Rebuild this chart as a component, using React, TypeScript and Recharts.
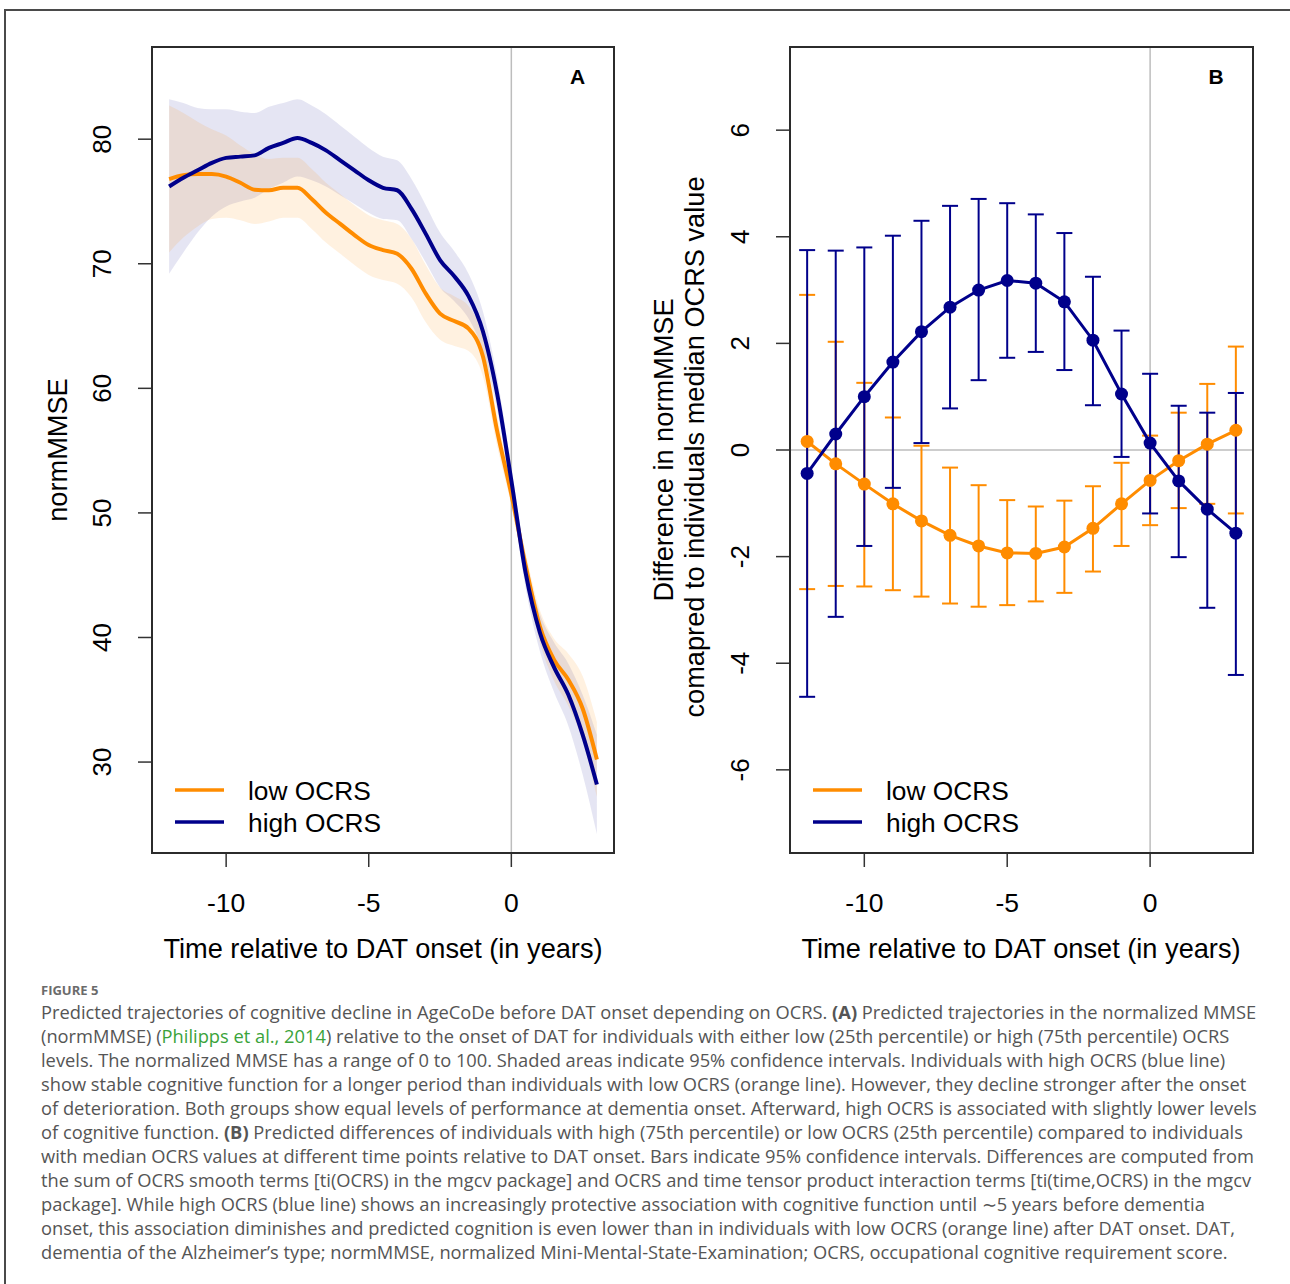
import React from 'react';
import { ComposedChart, Line, Area, XAxis, YAxis, ReferenceLine, ErrorBar } from 'recharts';

// ---------- Panel A: predicted normMMSE trajectories ----------
const TIME_A = [-12, -11.5, -11, -10.5, -10, -9.5, -9, -8.5, -8, -7.5, -7, -6.5, -6, -5.5, -5, -4.5, -4, -3.5, -3, -2.5, -2, -1.5, -1, -0.5, 0, 0.5, 1, 1.5, 2, 2.5, 3];
const HIGH_A = [76.2, 76.9, 77.5, 78.1, 78.5, 78.6, 78.7, 79.3, 79.7, 80.1, 79.7, 79.1, 78.3, 77.5, 76.7, 76.1, 75.9, 74.4, 72.4, 70.3, 69.0, 67.4, 64.6, 59.6, 52.6, 45.2, 40.4, 37.6, 35.4, 32.2, 28.2];
const HIGH_A_HI = [83.2, 82.9, 82.5, 82.4, 82.4, 82.2, 82.1, 82.6, 82.9, 83.2, 82.7, 82.0, 81.1, 80.2, 79.3, 78.6, 78.3, 76.8, 74.7, 72.5, 71.0, 69.2, 66.2, 60.9, 53.7, 46.4, 41.9, 39.6, 37.9, 35.4, 32.2];
const HIGH_A_LO = [69.2, 70.9, 72.5, 73.8, 74.6, 75.0, 75.3, 76.0, 76.5, 77.0, 76.7, 76.2, 75.5, 74.8, 74.1, 73.6, 73.5, 72.0, 70.1, 68.1, 67.0, 65.6, 63.0, 58.3, 51.5, 44.0, 38.9, 35.6, 32.9, 29.0, 24.2];
const LOW_A = [76.8, 77.1, 77.2, 77.2, 77.0, 76.5, 75.95, 75.9, 76.1, 76.1, 75.2, 74.1, 73.2, 72.3, 71.5, 71.1, 70.8, 69.6, 67.6, 66.0, 65.4, 64.8, 62.6, 56.6, 51.5, 45.8, 40.9, 38.2, 36.6, 34.3, 30.2];
const LOW_A_HI = [82.7, 82.1, 81.4, 80.8, 80.3, 79.5, 78.8, 78.4, 78.5, 78.5, 77.6, 76.5, 75.6, 74.7, 73.9, 73.5, 73.2, 72.0, 69.9, 68.1, 67.4, 66.6, 64.2, 57.8, 52.4, 46.8, 42.2, 39.9, 38.7, 36.9, 33.2];
const LOW_A_LO = [70.9, 72.1, 73.0, 73.6, 73.7, 73.5, 73.2, 73.4, 73.7, 73.7, 72.8, 71.7, 70.8, 69.9, 69.1, 68.7, 68.4, 67.3, 65.3, 63.9, 63.4, 63.0, 61.0, 55.4, 50.6, 44.8, 39.6, 36.5, 34.5, 31.7, 27.2];
const Y_TICKS_A = [30, 40, 50, 60, 70, 80];

// ---------- Panel B: differences vs. median OCRS ----------
const TIME_B = [-12, -11, -10, -9, -8, -7, -6, -5, -4, -3, -2, -1, 0, 1, 2, 3];
const HIGH_B = [-0.44, 0.30, 1.00, 1.65, 2.22, 2.68, 3.00, 3.18, 3.13, 2.78, 2.06, 1.05, 0.13, -0.58, -1.11, -1.56];
const HIGH_B_LO = [-4.63, -3.13, -1.80, -0.71, 0.13, 0.78, 1.31, 1.73, 1.84, 1.50, 0.84, -0.13, -1.19, -2.01, -2.96, -4.22];
const HIGH_B_HI = [3.75, 3.74, 3.80, 4.02, 4.30, 4.58, 4.71, 4.63, 4.42, 4.07, 3.25, 2.24, 1.43, 0.83, 0.70, 1.07];
const LOW_B = [0.16, -0.26, -0.64, -1.01, -1.33, -1.60, -1.80, -1.93, -1.94, -1.82, -1.47, -1.01, -0.57, -0.20, 0.11, 0.37];
const LOW_B_LO = [-2.61, -2.55, -2.56, -2.63, -2.75, -2.88, -2.94, -2.91, -2.84, -2.68, -2.28, -1.80, -1.41, -1.09, -1.01, -1.19];
const LOW_B_HI = [2.91, 2.03, 1.26, 0.61, 0.08, -0.33, -0.66, -0.94, -1.06, -0.95, -0.68, -0.24, 0.27, 0.70, 1.24, 1.94];
const Y_TICKS_B = [-6, -4, -2, 0, 2, 4, 6];

const X_TICKS = [-10, -5, 0];
const X_DOMAIN: [number, number] = [-12.6, 3.6];
const LEGEND_LABELS = ['low OCRS', 'high OCRS'];

const ORANGE = '#FF8C00';
const NAVY = '#00008B';
const FONT = '"Liberation Sans", Arial, Helvetica, sans-serif';
const CAP_FONT = '"Open Sans", Lato, sans-serif';

const dataA = TIME_A.map((t, i) => ({
  t,
  high: HIGH_A[i],
  low: LOW_A[i],
  highBand: [HIGH_A_LO[i], HIGH_A_HI[i]],
  lowBand: [LOW_A_LO[i], LOW_A_HI[i]],
}));

const dataB = TIME_B.map((t, i) => ({
  t,
  high: HIGH_B[i],
  low: LOW_B[i],
  highErr: [HIGH_B[i] - HIGH_B_LO[i], HIGH_B_HI[i] - HIGH_B[i]],
  lowErr: [LOW_B[i] - LOW_B_LO[i], LOW_B_HI[i] - LOW_B[i]],
}));

const YTick = (props: any) => {
  const { x, y, payload } = props;
  return (
    <text x={x} y={y} transform={`rotate(-90 ${x} ${y})`} textAnchor="middle" fontSize={26} fill="#000" fontFamily={FONT}>
      {String(payload.value)}
    </text>
  );
};

const XTick = (props: any) => {
  const { x, y, payload } = props;
  return (
    <text x={x} y={y} textAnchor="middle" fontSize={26.5} fill="#000" fontFamily={FONT}>
      {String(payload.value)}
    </text>
  );
};

const tickLineStyle = { stroke: '#333', strokeWidth: 1.5 };

const CHART_W = 640;
const CHART_H = 980;

function PanelA() {
  return (
    <ComposedChart width={CHART_W} height={CHART_H} data={dataA} margin={{ top: 47, right: 26, bottom: 67, left: 92 }}>
      <XAxis dataKey="t" type="number" domain={X_DOMAIN} ticks={X_TICKS} tick={<XTick />} tickSize={14} tickMargin={45} axisLine={false} tickLine={tickLineStyle} height={60} allowDataOverflow interval={0} />
      <YAxis type="number" domain={[22.7, 87.4]} ticks={Y_TICKS_A} tick={<YTick />} tickSize={14} tickMargin={27} axisLine={false} tickLine={tickLineStyle} width={60} allowDataOverflow interval={0} />
      <ReferenceLine x={0} stroke="#bdbdbd" strokeWidth={1.5} />
      <Area type="monotone" dataKey="highBand" stroke="none" fill={NAVY} fillOpacity={0.1} isAnimationActive={false} />
      <Area type="monotone" dataKey="lowBand" stroke="none" fill={ORANGE} fillOpacity={0.12} isAnimationActive={false} />
      <Line type="monotone" dataKey="low" stroke={ORANGE} strokeWidth={4} dot={false} isAnimationActive={false} />
      <Line type="monotone" dataKey="high" stroke={NAVY} strokeWidth={4} dot={false} isAnimationActive={false} />
    </ComposedChart>
  );
}

function PanelB() {
  return (
    <ComposedChart width={CHART_W} height={CHART_H} data={dataB} margin={{ top: 47, right: 27, bottom: 67, left: 90 }}>
      <XAxis dataKey="t" type="number" domain={X_DOMAIN} ticks={X_TICKS} tick={<XTick />} tickSize={14} tickMargin={45} axisLine={false} tickLine={tickLineStyle} height={60} allowDataOverflow interval={0} />
      <YAxis type="number" domain={[-7.56, 7.56]} ticks={Y_TICKS_B} tick={<YTick />} tickSize={14} tickMargin={27} axisLine={false} tickLine={tickLineStyle} width={60} allowDataOverflow interval={0} />
      <ReferenceLine x={0} stroke="#bdbdbd" strokeWidth={1.5} />
      <ReferenceLine y={0} stroke="#bdbdbd" strokeWidth={1.5} />
      <Line type="linear" dataKey="low" stroke={ORANGE} strokeWidth={3} dot={{ r: 6.5, fill: ORANGE, stroke: ORANGE, strokeWidth: 0 }} isAnimationActive={false}>
        <ErrorBar dataKey="lowErr" direction="y" width={8} stroke={ORANGE} strokeWidth={2} />
      </Line>
      <Line type="linear" dataKey="high" stroke={NAVY} strokeWidth={3} dot={{ r: 6.5, fill: NAVY, stroke: NAVY, strokeWidth: 0 }} isAnimationActive={false}>
        <ErrorBar dataKey="highErr" direction="y" width={8} stroke={NAVY} strokeWidth={2} />
      </Line>
    </ComposedChart>
  );
}

function Box({ left, top, width, height }: { left: number; top: number; width: number; height: number }) {
  return (
    <div style={{ position: 'absolute', left, top, width, height, border: '2px solid #2b2b2b', boxSizing: 'border-box', pointerEvents: 'none' }} />
  );
}

function Legend({ x0 }: { x0: number }) {
  return (
    <g fontFamily={FONT} fontSize={26.3} fill="#000">
      <line x1={x0 + 23} x2={x0 + 72} y1={790} y2={790} stroke={ORANGE} strokeWidth={3.5} />
      <line x1={x0 + 23} x2={x0 + 72} y1={822} y2={822} stroke={NAVY} strokeWidth={3.5} />
      <text x={x0 + 96} y={800}>{LEGEND_LABELS[0]}</text>
      <text x={x0 + 96} y={832}>{LEGEND_LABELS[1]}</text>
    </g>
  );
}

const captionLines: React.ReactNode[] = [
  <>Predicted trajectories of cognitive decline in AgeCoDe before DAT onset depending on OCRS. <b>(A)</b> Predicted trajectories in the normalized MMSE</>,
  <>(normMMSE) (<span style={{ color: '#3aa33a' }}>Philipps et al., 2014</span>) relative to the onset of DAT for individuals with either low (25th percentile) or high (75th percentile) OCRS</>,
  <>levels. The normalized MMSE has a range of 0 to 100. Shaded areas indicate 95% confidence intervals. Individuals with high OCRS (blue line)</>,
  <>show stable cognitive function for a longer period than individuals with low OCRS (orange line). However, they decline stronger after the onset</>,
  <>of deterioration. Both groups show equal levels of performance at dementia onset. Afterward, high OCRS is associated with slightly lower levels</>,
  <>of cognitive function. <b>(B)</b> Predicted differences of individuals with high (75th percentile) or low OCRS (25th percentile) compared to individuals</>,
  <>with median OCRS values at different time points relative to DAT onset. Bars indicate 95% confidence intervals. Differences are computed from</>,
  <>the sum of OCRS smooth terms [ti(OCRS) in the mgcv package] and OCRS and time tensor product interaction terms [ti(time,OCRS) in the mgcv</>,
  <>package]. While high OCRS (blue line) shows an increasingly protective association with cognitive function until ∼5 years before dementia</>,
  <>onset, this association diminishes and predicted cognition is even lower than in individuals with low OCRS (orange line) after DAT onset. DAT,</>,
  <>dementia of the Alzheimer’s type; normMMSE, normalized Mini-Mental-State-Examination; OCRS, occupational cognitive requirement score.</>,
];

export default function App() {
  return (
    <div style={{ position: 'absolute', left: 0, top: 0, width: 1290, height: 1284, background: '#fff', overflow: 'hidden', fontFamily: FONT }}>
      {/* outer frame */}
      <div style={{ position: 'absolute', left: 4, top: 9, width: 1300, height: 1300, borderTop: '2px solid #4a4a4a', borderLeft: '2px solid #4a4a4a' }} />

      <div style={{ position: 'absolute', left: 0, top: 0 }}>
        <PanelA />
      </div>
      <div style={{ position: 'absolute', left: 640, top: 0 }}>
        <PanelB />
      </div>

      <Box left={151} top={46} width={464} height={808} />
      <Box left={789} top={46} width={465} height={808} />

      <svg width={1290} height={1000} style={{ position: 'absolute', left: 0, top: 0, pointerEvents: 'none' }}>
        <g fontFamily={FONT} fontSize={27.2} fill="#000">
          <text transform="translate(67,450) rotate(-90)" textAnchor="middle">normMMSE</text>
          <text transform="translate(673,450) rotate(-90)" textAnchor="middle">Difference in normMMSE</text>
          <text transform="translate(704,447) rotate(-90)" textAnchor="middle">comapred to individuals median OCRS value</text>
          <text x={383} y={958} textAnchor="middle">Time relative to DAT onset (in years)</text>
          <text x={1021} y={958} textAnchor="middle">Time relative to DAT onset (in years)</text>
        </g>
        <g fontFamily={FONT} fontSize={21} fontWeight="bold" fill="#000">
          <text x={577.5} y={84} textAnchor="middle">A</text>
          <text x={1216} y={84} textAnchor="middle">B</text>
        </g>
        <Legend x0={152} />
        <Legend x0={790} />
      </svg>

      <div style={{ position: 'absolute', left: 41, top: 981, fontFamily: CAP_FONT, fontSize: 13, fontWeight: 700, color: '#6b6b6b' }}>FIGURE 5</div>
      {captionLines.map((ln, i) => (
        <div key={i} style={{ position: 'absolute', left: 41, top: 1000 + i * 24, fontFamily: CAP_FONT, fontSize: 18.3, lineHeight: '24px', color: '#555', whiteSpace: 'nowrap' }}>
          {ln}
        </div>
      ))}
    </div>
  );
}
